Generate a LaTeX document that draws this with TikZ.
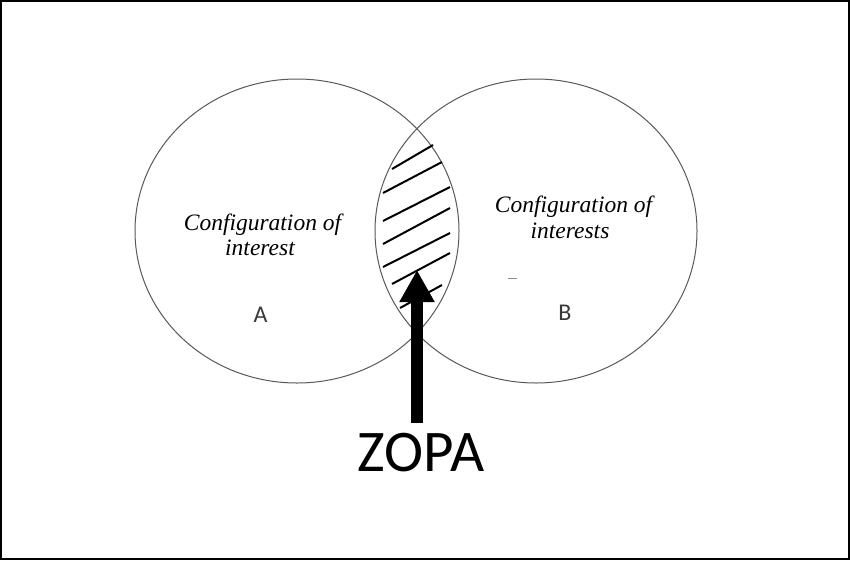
\documentclass[tikz,border=0pt]{standalone}
\usepackage{fontspec}
\setmainfont{Liberation Serif}
\newfontfamily\zfont{Carlito}
\usetikzlibrary{arrows.meta}
\tikzset{
  ring/.style={draw=black!65, line width=1pt},
  hatch/.style={draw=black, line width=2pt},
  conf/.style={font=\fontsize{23.5}{25}\selectfont\itshape, anchor=base, inner sep=0pt},
  letter/.style={font=\zfont\fontsize{24}{26}\selectfont, text=black!78, anchor=base, inner sep=0pt},
  bigarrow/.style={line width=12pt, -{Triangle[width=33pt,length=32pt]}}
}
\begin{document}
\begin{tikzpicture}[x=1pt,y=-1pt]
\useasboundingbox (0,0) rectangle (850,560);
\fill[white] (0,0) rectangle (850,560);
\draw[black, line width=1.6pt] (0.8,0.8) rectangle (849.2,559.2);
% circles
\draw[ring] (297,231) ellipse [x radius=162, y radius=152];
\draw[ring] (536,231) ellipse [x radius=161, y radius=152];
% hatch lines in the lens
\draw[hatch] (392,169) -- (433,145);
\draw[hatch] (383,193) -- (442,162);
\draw[hatch] (383,221) -- (450,187);
\draw[hatch] (383,244) -- (450,208);
\draw[hatch] (383,267) -- (450,233);
\draw[hatch] (392,284) -- (450,253);
\draw[hatch] (400,308) -- (442,285);
% texts
\node[conf] (a1) at (262.5,230) {Configuration of};
\node[conf] (a2) at (260,255) {interest};
\node[conf] (b1) at (573.5,212) {Configuration of};
\node[conf] (b2) at (570,238) {interests};
\node[letter] (la) at (260.5,322) {A};
\node[letter] (lb) at (565,320) {B};
\draw[black!45, line width=1pt] (508,278) -- (517,278);
% ZOPA and arrow
\node[font=\zfont\fontsize{59}{62}\selectfont, anchor=base, inner sep=0pt] (zopa) at (421,471) {ZOPA};
\coordinate (arrowbase) at (417,423);
\coordinate (tip) at (417,270);
\draw[bigarrow] (arrowbase) -- (tip);
\end{tikzpicture}
\end{document}
